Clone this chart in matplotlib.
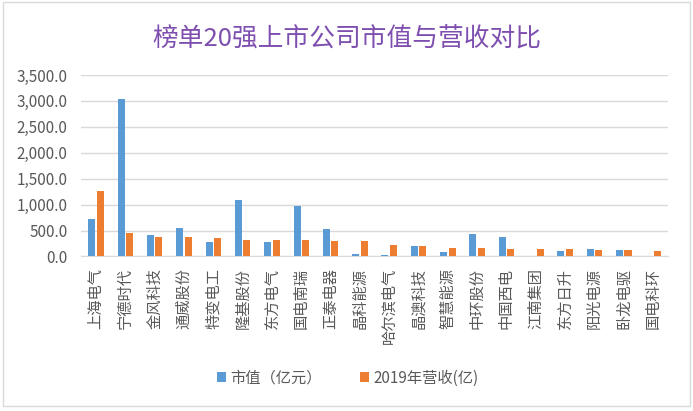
import matplotlib
matplotlib.use('Agg')
import matplotlib.pyplot as plt
import numpy as np
from matplotlib.patches import Rectangle

plt.rcParams['font.family'] = ['Noto Sans CJK SC', 'DejaVu Sans']

# 公司名称与数据（亿）
companies = ['上海电气', '宁德时代', '金风科技', '通威股份', '特变电工', '隆基股份',
             '东方电气', '国电南瑞', '正泰电器', '晶科能源', '哈尔滨电气', '晶澳科技',
             '智慧能源', '中环股份', '中国西电', '江南集团', '东方日升', '阳光电源',
             '卧龙电驱', '国电科环']
market_cap = [728, 3028, 419, 554, 284, 1095, 284, 979, 535, 45, 26, 199,
              83, 429, 372, 0, 103, 141, 122, 0]
revenue_2019 = [1269, 457, 380, 380, 361, 322, 322, 322, 303, 295, 218, 199,
                160, 160, 141, 141, 141, 122, 122, 103]
yticks = [0, 500, 1000, 1500, 2000, 2500, 3000, 3500]

fig = plt.figure(figsize=(6.93, 4.11), dpi=100)
ax = fig.add_axes([0.1175, 0.376, 0.8460, 0.4415])

x = np.arange(len(companies))
w = 0.24
ax.bar(x - 0.145, market_cap, width=w, color='#5B9BD5', label='市值（亿元）', zorder=3)
ax.bar(x + 0.145, revenue_2019, width=w, color='#ED7D31', label='2019年营收(亿)', zorder=3)

ax.set_xlim(-0.5, len(companies) - 0.5)
ax.set_ylim(0, 3500)
ax.set_yticks(yticks)
ax.set_yticklabels([f'{v:,.1f}' for v in yticks], fontsize=11, color='#595959')
ax.yaxis.grid(True, color='#D9D9D9', linewidth=1, zorder=0)
ax.set_xticks(x)
ax.set_xticklabels(companies, rotation=90, fontsize=11, color='#595959')
ax.tick_params(axis='both', length=0)
ax.tick_params(axis='y', pad=10)
ax.tick_params(axis='x', pad=8)
for s in ['left', 'right', 'top']:
    ax.spines[s].set_visible(False)
ax.spines['bottom'].set_color('#D9D9D9')

fig.text(0.5, 0.907, '榜单20强上市公司市值与营收对比', ha='center', va='center',
         fontsize=18.5, color='#7F4FB0')

fig.legend(loc='center', bbox_to_anchor=(0.502, 0.08), ncol=2, frameon=False,
           fontsize=11, handlelength=0.6, handleheight=0.6, columnspacing=2.5,
           handletextpad=0.3, labelcolor='#595959')

fig.patches.append(Rectangle((0.004, 0.012), 0.992, 0.984, transform=fig.transFigure,
                             fill=False, edgecolor='#D9D9D9', linewidth=1))

fig.savefig('out.png', dpi=100)
